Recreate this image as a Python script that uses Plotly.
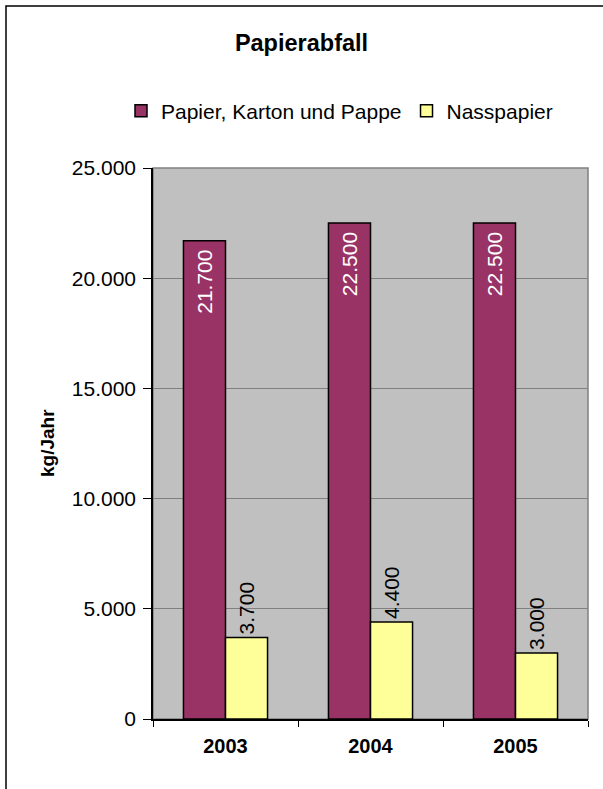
import plotly.graph_objects as go

years = ["2003", "2004", "2005"]
papier = [21700, 22500, 22500]
nass = [3700, 4400, 3000]
series_names = ["Papier, Karton und Pappe", "Nasspapier"]
y_ticks = [0, 5000, 10000, 15000, 20000, 25000]

FONT = "Liberation Sans, Arial, sans-serif"
W, H = 603, 789
L, R, T, B = 153, 588, 168, 719
PW, PH = R - L, B - T

def px_x(p):
    return (p - L) / PW

def px_y(p):
    return (B - p) / PH

fig = go.Figure()
fig.add_trace(go.Bar(
    x=years, y=papier, name=series_names[0],
    marker=dict(color="#993366", line=dict(color="black", width=1.5)),
    texttemplate="%{y:,d}\u00a0", textposition="inside", insidetextanchor="end",
    textangle=-90, textfont=dict(color="white", size=21, family=FONT),
    constraintext="none", hoverinfo="skip",
))
fig.add_trace(go.Bar(
    x=years, y=nass, name=series_names[1],
    marker=dict(color="#FFFF99", line=dict(color="black", width=1.5)),
    texttemplate="%{y:,d}", textposition="outside",
    textangle=-90, textfont=dict(color="black", size=21, family=FONT),
    constraintext="none", cliponaxis=False, hoverinfo="skip",
))

fig.update_layout(
    width=W, height=H,
    margin=dict(l=L, r=W - R, t=T, b=H - B, autoexpand=False),
    paper_bgcolor="white", plot_bgcolor="#C0C0C0",
    separators=",.",
    font=dict(family=FONT, size=21, color="black"),
    barmode="group", bargap=0.42, bargroupgap=0,
    showlegend=True,
    title=dict(text="<b>Papierabfall</b>", font=dict(size=23.5, family=FONT),
               x=0.5, xref="container", xanchor="center",
               y=1 - 43 / H, yref="container", yanchor="middle"),
    legend=dict(orientation="h", x=px_x(121), xanchor="left",
                y=px_y(111), yanchor="middle",
                font=dict(size=21, family=FONT), bgcolor="rgba(0,0,0,0)",
                itemclick=False, tracegroupgap=0),
    xaxis=dict(type="category", tickson="boundaries", ticks="outside",
               ticklen=6, tickcolor="black", tickwidth=1,
               showline=True, linecolor="black", linewidth=1.5,
               tickfont=dict(size=20, family=FONT, weight="bold"),
               ticklabelstandoff=8, showgrid=False, fixedrange=True),
    yaxis=dict(range=[0, 25000], tickvals=y_ticks, tickformat=",d",
               ticks="outside", ticklen=8, tickcolor="black", tickwidth=1,
               showline=True, linecolor="black", linewidth=1.5,
               showgrid=True, gridcolor="#808080", gridwidth=1,
               zeroline=False, tickfont=dict(size=21, family=FONT),
               ticklabelstandoff=3, fixedrange=True),
    shapes=[
        dict(type="rect", xref="paper", yref="paper", x0=0, x1=1, y0=0, y1=1,
             line=dict(color="#808080", width=1.5), layer="below"),
        dict(type="rect", xref="paper", yref="paper",
             x0=px_x(6), x1=px_x(620), y0=px_y(820), y1=px_y(6),
             line=dict(color="black", width=1.5), layer="below"),
    ],
    annotations=[
        dict(text="<b>kg/Jahr</b>", xref="paper", yref="paper",
             x=px_x(47), y=px_y(443), textangle=-90, showarrow=False,
             xanchor="center", yanchor="middle",
             font=dict(size=19, family=FONT)),
    ],
)

fig.write_html("out.html", config={"displayModeBar": False},
               post_script="document.body.style.margin='0';")
